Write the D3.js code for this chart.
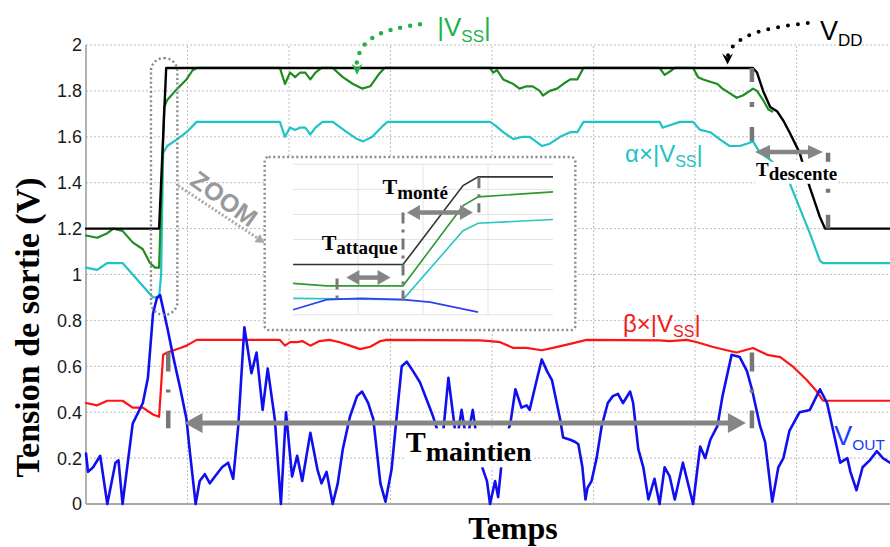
<!DOCTYPE html>
<html><head><meta charset="utf-8">
<script src="https://cdn.jsdelivr.net/npm/d3@7"></script>
<style>html,body{margin:0;padding:0;background:#fff;}svg{display:block;}</style>
</head><body>
<svg id="c" width="890" height="547"></svg>
<script>
// ---------- DATA ----------
const yTicks = [0, 0.2, 0.4, 0.6, 0.8, 1, 1.2, 1.4, 1.6, 1.8, 2];
const xGrid = [100, 200, 300, 400, 500, 600, 700];

// V_DD (black)
const vdd = [[0,1.2],[72,1.2],[79,1.9],[657,1.9],[661,1.88],[667,1.80],[674,1.73],[681,1.71],[687,1.67],[693,1.62],[703,1.53],[713,1.38],[723,1.25],[728,1.2],[792,1.2]];
// |V_SS| (green)
const vss = [[0,1.17],[11,1.16],[21,1.18],[27,1.20],[36,1.19],[46,1.14],[56,1.11],[63,1.05],[68,1.03],[72,1.03],[77,1.73],[80,1.76],[90,1.81],[99,1.85],[105,1.89],[109,1.90],
 [191,1.9],[196,1.83],[201,1.88],[206,1.86],[211,1.88],[216,1.88],[221,1.85],[226,1.88],[232,1.9],
 [243,1.9],[253,1.86],[263,1.83],[272,1.81],[280,1.82],[288,1.87],[294,1.9],
 [398,1.9],[401,1.88],[405,1.89],[411,1.85],[421,1.83],[427,1.81],[434,1.82],[440,1.82],[447,1.80],[450,1.78],[457,1.80],[464,1.81],[470,1.83],[477,1.85],[484,1.85],[490,1.9],
 [565,1.9],[570,1.87],[577,1.89],[580,1.9],
 [598,1.9],[603,1.86],[608,1.85],[615,1.84],[622,1.83],[627,1.81],[634,1.79],[641,1.77],[647,1.78],[654,1.80],[657,1.81],[661,1.80],[667,1.76],[672,1.72],[676,1.71]];
// alpha x |V_SS| (cyan)
const alphaVss = [[0,1.03],[11,1.02],[21,1.05],[36,1.05],[46,1.00],[56,0.95],[66,0.90],[72,0.90],[74,1.0],[76,1.53],[80,1.56],[90,1.59],[99,1.62],[109,1.665],
 [191,1.665],[196,1.60],[201,1.64],[206,1.63],[211,1.64],[216,1.64],[221,1.61],[226,1.64],[233,1.665],
 [243,1.665],[257,1.62],[267,1.59],[273,1.58],[282,1.60],[293,1.65],[297,1.665],
 [398,1.665],[403,1.65],[411,1.62],[421,1.59],[430,1.60],[437,1.60],[440,1.59],[449,1.56],[457,1.57],[467,1.60],[477,1.62],[484,1.62],[490,1.665],
 [565,1.665],[568,1.64],[575,1.65],[585,1.665],
 [598,1.665],[605,1.63],[615,1.62],[624,1.59],[634,1.56],[644,1.56],[651,1.57],[657,1.58],[664,1.53],[674,1.50],[684,1.46],[693,1.40],[703,1.29],[713,1.18],[723,1.06],[726,1.05],[792,1.05]];
// beta x |V_SS| (red)
const betaVss = [[0,0.44],[11,0.43],[21,0.45],[36,0.45],[46,0.42],[56,0.42],[66,0.39],[72,0.38],[76,0.65],[80,0.66],[93,0.68],[99,0.69],[109,0.715],
 [191,0.715],[196,0.69],[201,0.705],[208,0.705],[213,0.71],[221,0.69],[230,0.71],[240,0.715],[250,0.705],[260,0.69],[270,0.675],[280,0.685],[290,0.71],[296,0.715],
 [388,0.713],[398,0.71],[408,0.705],[421,0.68],[434,0.68],[449,0.67],[460,0.68],[479,0.70],[493,0.715],
 [565,0.713],[575,0.71],[592,0.715],[602,0.705],[617,0.685],[631,0.67],[641,0.66],[657,0.68],[671,0.65],[684,0.64],[696,0.60],[710,0.54],[720,0.49],[726,0.45],[792,0.45]];
// V_OUT (blue)
const vout = [[0,0.22],[2,0.14],[7,0.16],[14,0.21],[21,0.0],[29,0.18],[32,0.19],[36,0.0],[46,0.35],[56,0.44],[61,0.55],[66,0.83],[70,0.90],[73,0.91],[80,0.77],[86,0.64],[93,0.50],[99,0.37],[102,0.24],[108,0.0],
 [112,0.10],[117,0.13],[122,0.09],[127,0.12],[134,0.16],[140,0.18],[145,0.11],[150,0.34],[156,0.77],[163,0.57],[168,0.66],[174,0.41],[179,0.59],[186,0.37],[192,0.0],
 [197,0.40],[203,0.12],[208,0.21],[213,0.10],[221,0.31],[228,0.15],[232,0.09],[237,0.14],[243,0.0],[248,0.09],[253,0.24],[260,0.38],[267,0.47],[272,0.49],[278,0.44],[283,0.37],[290,0.09],[295,0.01],
 [301,0.15],[306,0.38],[311,0.60],[316,0.62],[322,0.58],[329,0.53],[336,0.45],[342,0.38],[349,0.28],[352,0.32],[357,0.55],[361,0.41],[365,0.27],[370,0.41],[375,0.27],[381,0.41],[388,0.19],[395,0.10],[398,0.0],
 [403,0.10],[406,0.03],[411,0.25],[418,0.35],[423,0.50],[429,0.42],[434,0.43],[437,0.41],[444,0.54],[449,0.63],[454,0.58],[459,0.54],[467,0.37],[470,0.29],[477,0.28],[482,0.27],[485,0.26],[489,0.16],[492,0.02],
 [494,0.07],[498,0.10],[503,0.20],[508,0.34],[514,0.44],[519,0.47],[524,0.48],[529,0.44],[536,0.49],[539,0.44],[544,0.24],[549,0.16],[554,0.02],[560,0.11],[565,0.0],[570,0.16],[575,0.12],[580,0.02],
 [588,0.18],[593,0.09],[598,0.0],[605,0.25],[610,0.20],[615,0.28],[622,0.34],[627,0.47],[636,0.65],[644,0.64],[651,0.58],[656,0.50],[664,0.34],[669,0.27],[676,0.01],
 [682,0.16],[687,0.20],[693,0.32],[703,0.40],[713,0.41],[723,0.50],[730,0.44],[736,0.32],[743,0.18],[750,0.20],[753,0.14],[759,0.06],[765,0.16],[772,0.19],[779,0.23],[785,0.20],[792,0.18]];

// Inset (zoom on the rising edge)
const insetGridX = [2.5, 5, 7.5];
const insetGridY = [0.8, 1.0, 1.2, 1.4, 1.6, 1.8, 2.0];
const insVdd = [[0,1.2],[4.23,1.2],[6.54,1.83],[7.12,1.9],[10,1.9]];
const insVss = [[0,1.05],[1.3,1.03],[4.23,1.03],[6.54,1.67],[7.12,1.74],[10,1.78]];
const insAlpha = [[0,0.93],[4.23,0.92],[6.54,1.47],[7.12,1.53],[10,1.56]];
const insVout = [[0,0.84],[1.3,0.92],[2.6,0.93],[4.23,0.92],[5.27,0.90],[7.12,0.82]];

// ---------- SCALES ----------
const svg = d3.select("#c");
const x = d3.scaleLinear().domain([0, 792]).range([86, 890]);
const y = d3.scaleLinear().domain([0, 2]).range([504, 45]);
const SERIF = "'Liberation Serif','Times New Roman',serif";
const SANS = "'Liberation Sans',Arial,sans-serif";
const GRAY = "#858585";

// grid
const grid = svg.append("g");
grid.selectAll("line.h").data(yTicks.filter(d => d > 0)).join("line")
  .attr("x1", x(0)).attr("x2", x(792)).attr("y1", d => y(d)).attr("y2", d => y(d))
  .attr("stroke", "#bdbdbd").attr("stroke-width", 1).attr("stroke-dasharray", "2,2");
grid.selectAll("line.v").data(xGrid).join("line")
  .attr("x1", d => x(d)).attr("x2", d => x(d)).attr("y1", y(0)).attr("y2", y(2))
  .attr("stroke", "#bdbdbd").attr("stroke-width", 1).attr("stroke-dasharray", "2,2");

// axes lines
svg.append("line").attr("x1", x(0)).attr("x2", x(0)).attr("y1", y(2)).attr("y2", y(0))
  .attr("stroke", "#9a9a9a").attr("stroke-width", 1.5);
svg.append("line").attr("x1", x(0)).attr("x2", x(792)).attr("y1", y(0)).attr("y2", y(0))
  .attr("stroke", "#a8a8a8").attr("stroke-width", 2);

// tick labels
svg.append("g").selectAll("text").data(yTicks).join("text")
  .attr("x", x(0) - 4).attr("y", d => y(d)).attr("dy", "0.36em")
  .attr("text-anchor", "end").attr("font-family", SANS).attr("font-size", 18)
  .attr("fill", "#1a1a1a").text(d => d3.format("~g")(d));

// axis titles
svg.append("text").attr("transform", `translate(39,${(y(2)+y(0))/2 + 53}) rotate(-90)`)
  .attr("text-anchor", "middle").attr("font-family", SERIF).attr("font-weight", "bold")
  .attr("font-size", 34).attr("fill", "#000").text("Tension de sortie (V)");
svg.append("text").attr("x", 513).attr("y", 539).attr("text-anchor", "middle")
  .attr("font-family", SERIF).attr("font-weight", "bold").attr("font-size", 32)
  .attr("fill", "#000").text("Temps");

// ---------- CURVES ----------
const line = d3.line().x(d => x(d[0])).y(d => y(d[1]));
function curve(data, color, w) {
  svg.append("path").datum(data).attr("d", line).attr("fill", "none")
    .attr("stroke", color).attr("stroke-width", w).attr("stroke-linejoin", "round").attr("stroke-linecap", "round");
}
curve(betaVss, "#ff1414", 2.2);
curve(alphaVss, "#1fc4c4", 2.2);
curve(vss, "#1e8c1e", 2.2);
curve(vdd, "#000", 2.4);
curve(vout, "#1010ee", 2.6);

// ---------- HELPERS ----------
function harrow(px1, px2, py, w, L, hw, both) {
  const g = svg.append("g").attr("fill", GRAY);
  g.append("line").attr("x1", px1 + L - 2).attr("x2", px2 - (L - 2)).attr("y1", py).attr("y2", py)
    .attr("stroke", GRAY).attr("stroke-width", w);
  if (both) g.append("path").attr("d", `M${px1},${py}L${px1+L},${py-hw}L${px1+L},${py+hw}Z`);
  g.append("path").attr("d", `M${px2},${py}L${px2-L},${py-hw}L${px2-L},${py+hw}Z`);
}
function marker(px, pyTop, pyBot, w, dash) {
  svg.append("line").attr("x1", px).attr("x2", px).attr("y1", pyTop).attr("y2", pyBot)
    .attr("stroke", "#777").attr("stroke-width", w).attr("stroke-dasharray", dash);
}
function subText(px, py, main, sub, fMain, fSub, dy, color, family, weight, bg, tail) {
  const t = svg.append("text").attr("x", px).attr("y", py).attr("font-family", family)
    .attr("font-weight", weight).attr("fill", color).attr("font-size", fMain);
  t.append("tspan").text(main);
  t.append("tspan").attr("font-size", fSub).attr("dy", dy).text(sub);
  if (tail) t.append("tspan").attr("dy", -dy).text(tail);
  if (bg) {
    const b = t.node().getBBox();
    svg.insert("rect", () => t.node()).attr("x", b.x - 1).attr("y", b.y + 3).attr("width", b.width + 2)
      .attr("height", b.height - 3).attr("fill", "#fff");
  }
  return t;
}

// ---------- ZOOM BOX ----------
svg.append("rect").attr("x", x(64)).attr("y", y(1.943)).attr("width", x(90) - x(64))
  .attr("height", y(0.824) - y(1.943)).attr("rx", 13).attr("fill", "none")
  .attr("stroke", "#8a8a8a").attr("stroke-width", 2.4).attr("stroke-dasharray", "2,2.6");
svg.append("line").attr("x1", x(91)).attr("y1", y(1.386)).attr("x2", x(173)).attr("y2", y(1.147))
  .attr("stroke", "#aaa").attr("stroke-width", 3).attr("stroke-dasharray", "2,2");
{
  const ax = x(176), ay = y(1.137), ang = Math.atan2(y(1.137) - y(1.386), x(176) - x(91));
  const L = 9, hw = 5;
  const p = [[ax, ay],
    [ax - L*Math.cos(ang) + hw*Math.sin(ang), ay - L*Math.sin(ang) - hw*Math.cos(ang)],
    [ax - L*Math.cos(ang) - hw*Math.sin(ang), ay - L*Math.sin(ang) + hw*Math.cos(ang)]];
  svg.append("path").attr("d", "M" + p.join("L") + "Z").attr("fill", "#aaa");
}
svg.append("text").attr("transform", `translate(${x(136)},${y(1.33)}) rotate(36)`)
  .attr("text-anchor", "middle").attr("dy", "0.35em").attr("font-family", SANS).attr("font-weight", "bold")
  .attr("font-size", 25).attr("fill", "#999").text("ZOOM");

// ---------- INSET ----------
svg.append("rect").attr("x", x(176)).attr("y", y(1.512)).attr("width", x(482) - x(176))
  .attr("height", y(0.758) - y(1.512)).attr("rx", 4).attr("fill", "#fff")
  .attr("stroke", "#8a8a8a").attr("stroke-width", 2.4).attr("stroke-dasharray", "2,2.6");
const ix = d3.scaleLinear().domain([0, 10]).range([x(204), x(460)]);
const iy = d3.scaleLinear().domain([0.8, 2.0]).range([y(0.825), y(1.48)]);
const ig = svg.append("g");
ig.selectAll("line.v").data(insetGridX).join("line")
  .attr("x1", d => ix(d)).attr("x2", d => ix(d)).attr("y1", iy(0.8)).attr("y2", iy(2.0))
  .attr("stroke", "#e4e4e4").attr("stroke-width", 1);
ig.selectAll("line.h").data(insetGridY).join("line")
  .attr("x1", ix(0)).attr("x2", ix(10)).attr("y1", d => iy(d)).attr("y2", d => iy(d))
  .attr("stroke", "#e4e4e4").attr("stroke-width", 1);
const iline = d3.line().x(d => ix(d[0])).y(d => iy(d[1]));
[[insVdd, "#333"], [insVss, "#2f9a2f"], [insAlpha, "#2ac6c6"], [insVout, "#3040f0"]].forEach(([d, c]) => {
  ig.append("path").datum(d).attr("d", iline).attr("fill", "none").attr("stroke", c).attr("stroke-width", 1.6);
});
// inset annotations
marker(ix(1.69), iy(1.088), iy(0.912), 3, "11,6,3,6");
marker(ix(4.23), iy(1.616), iy(0.912), 3, "11,6,3,6");
marker(ix(7.15), iy(1.896), iy(1.616), 3, "11,6,3,6");
harrow(ix(2.05), ix(3.75), iy(1.096), 4.5, 13, 7.5, true);
harrow(ix(4.38), ix(6.92), iy(1.616), 4.5, 13, 7.5, true);
subText(ix(1.1), iy(1.32), "T", "attaque", 22, 19, 4, "#000", SERIF, "bold", false);
subText(ix(3.44), iy(1.76), "T", "monté", 22, 19, 5, "#000", SERIF, "bold", false);

// ---------- MAIN ANNOTATIONS ----------
// T maintien
marker(x(81), y(0.66), y(0.33), 4.5, "19,18,3,18");
marker(x(656), y(0.66), y(0.33), 4.5, "19,18,3,18");
harrow(x(97), x(650), y(0.353), 5, 18, 10, true);
subText(x(315), y(0.225), "T", "maintien", 30, 28, 9, "#000", SERIF, "bold", true);
// T descente
marker(x(656), y(1.90), y(1.565), 4.5, "14,20,5,20");
marker(x(731), y(1.53), y(1.20), 4.5, "14,22,4,22");
harrow(x(659), x(726), y(1.534), 4.5, 15, 7, true);
subText(x(660), y(1.43), "T", "descente", 19, 19, 4, "#000", SERIF, "bold", true);

// coloured labels
subText(x(346), y(2.04), "|V", "SS", 26, 17, 6, "#22b24a", SANS, "normal", false, "|");
subText(x(723), y(2.02), "V", "DD", 27, 17, 6, "#000", SANS, "normal", false);
subText(x(531), y(1.49), "α×|V", "SS", 24, 16, 5, "#1ec2c4", SANS, "normal", false, "|");
subText(x(529), y(0.75), "β×|V", "SS", 24, 16, 5, "#ee1c1c", SANS, "normal", false, "|");
subText(x(737), y(0.257), "V", "OUT", 27, 15.5, 5, "#1a3cff", SANS, "normal", false);

// dotted callout arrows
const cl = d3.line().x(d => x(d[0])).y(d => y(d[1])).curve(d3.curveCatmullRom);
const vssCall = [[329,2.09],[308,2.074],[289,2.048],[274,2.0],[267,1.935],[267,1.905]];
const vddCall = [[711,2.096],[682,2.078],[662,2.057],[646,2.026],[636,1.987],[632,1.95]];
svg.append("path").datum(vssCall).attr("d", cl).attr("fill", "none").attr("stroke", "#22b24a")
  .attr("stroke-width", 4.5).attr("stroke-linecap", "round").attr("stroke-dasharray", "0,10");
svg.append("path").datum(vddCall).attr("d", cl).attr("fill", "none").attr("stroke", "#000")
  .attr("stroke-width", 4).attr("stroke-linecap", "round").attr("stroke-dasharray", "0,10");
function headDown(px, py, color) {
  svg.append("path").attr("d", `M${px},${py}L${px-5.5},${py-11}L${px},${py-7}L${px+5.5},${py-11}Z`).attr("fill", color);
}
headDown(x(267), y(1.87), "#22b24a");
headDown(x(632), y(1.915), "#000");
</script>
</body></html>
